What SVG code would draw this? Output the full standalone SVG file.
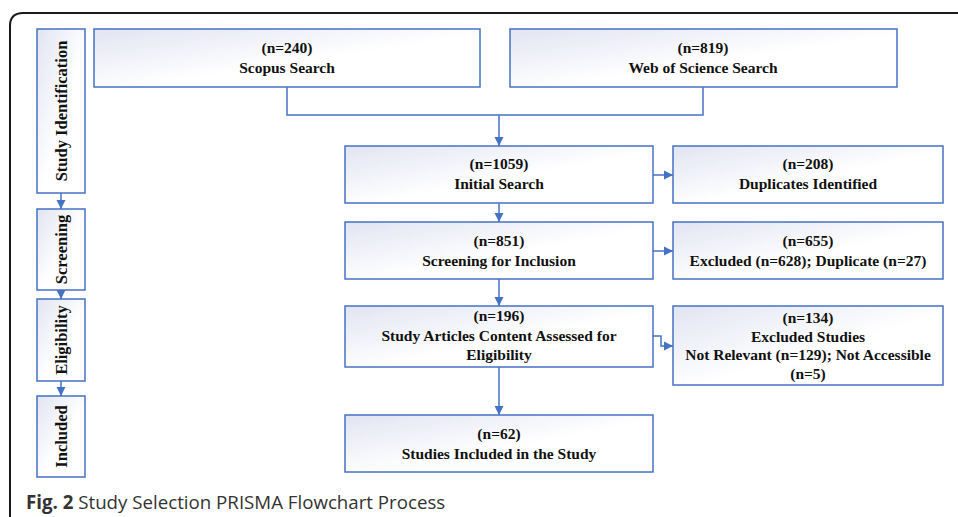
<svg xmlns="http://www.w3.org/2000/svg" width="958" height="517" viewBox="0 0 958 517">
<defs>
<linearGradient id="g" x1="0" y1="0" x2="1" y2="1">
<stop offset="0" stop-color="#e1e4f2"/>
<stop offset="0.55" stop-color="#ffffff"/>
<stop offset="1" stop-color="#ffffff"/>
</linearGradient>
<marker id="ah" markerWidth="10" markerHeight="10" refX="9" refY="5" orient="auto" markerUnits="userSpaceOnUse">
<path d="M0,0.5 L9,5 L0,9.5 Z" fill="#4472c4"/>
</marker>
<style>
.box{fill:url(#g);stroke:#4472c4;stroke-width:1.5}
.t{font-family:"Liberation Serif","DejaVu Serif",serif;font-size:15.5px;font-weight:bold;fill:#111;text-anchor:middle}
.side{font-family:"Liberation Serif","DejaVu Serif",serif;font-size:16.5px;font-weight:bold;fill:#111;text-anchor:middle}
.c{fill:none;stroke:#4472c4;stroke-width:1.5}
.ca{fill:none;stroke:#4472c4;stroke-width:1.5;marker-end:url(#ah)}
.cap{font-family:"Open Sans","Noto Sans",sans-serif;font-size:18.7px;fill:#333}
</style>
</defs>
<rect width="958" height="517" fill="#fff"/>
<path d="M10,517 V26 Q10,13 23,13 H958" fill="none" stroke="#1a1a1a" stroke-width="2"/>

<g id="connectors">
<path class="c" d="M287,87 V115 H703 V87"/>
<path class="ca" d="M499,115 V146"/>
<path class="ca" d="M653,175 H673"/>
<path class="ca" d="M499,203 V222"/>
<path class="ca" d="M653,251 H673"/>
<path class="ca" d="M499,279 V306"/>
<path class="ca" d="M653,336 H661 V346 H673"/>
<path class="ca" d="M499,367 V415"/>
<path class="ca" d="M61,193 V209"/>
<path class="ca" d="M61,290 V299"/>
<path class="ca" d="M61,381 V396"/>
</g>

<g id="side-identification">
<rect class="box" x="37" y="29" width="48" height="164"/>
<text class="side" transform="translate(67,111) rotate(-90)">Study Identification</text>
</g>
<g id="side-screening">
<rect class="box" x="37" y="209" width="48" height="81"/>
<text class="side" transform="translate(67,249.5) rotate(-90)">Screening</text>
</g>
<g id="side-eligibility">
<rect class="box" x="37" y="299" width="48" height="82"/>
<text class="side" transform="translate(67,340) rotate(-90)">Eligibility</text>
</g>
<g id="side-included">
<rect class="box" x="37" y="396" width="48" height="81"/>
<text class="side" transform="translate(67,436.5) rotate(-90)">Included</text>
</g>

<g id="scopus">
<rect class="box" x="94" y="29" width="386" height="58"/>
<text class="t" x="287" y="53">(n=240)</text>
<text class="t" x="287" y="73">Scopus Search</text>
</g>
<g id="wos">
<rect class="box" x="510" y="29" width="387" height="58"/>
<text class="t" x="703" y="53">(n=819)</text>
<text class="t" x="703" y="73">Web of Science Search</text>
</g>
<g id="initial">
<rect class="box" x="345" y="146" width="308" height="57"/>
<text class="t" x="499" y="169">(n=1059)</text>
<text class="t" x="499" y="189">Initial Search</text>
</g>
<g id="duplicates">
<rect class="box" x="673" y="146" width="270" height="57"/>
<text class="t" x="808" y="169">(n=208)</text>
<text class="t" x="808" y="189">Duplicates Identified</text>
</g>
<g id="screening">
<rect class="box" x="345" y="222" width="308" height="57"/>
<text class="t" x="499" y="246">(n=851)</text>
<text class="t" x="499" y="266">Screening for Inclusion</text>
</g>
<g id="excluded">
<rect class="box" x="673" y="222" width="270" height="57"/>
<text class="t" x="808" y="246">(n=655)</text>
<text class="t" x="808" y="266">Excluded (n=628); Duplicate (n=27)</text>
</g>
<g id="assessed">
<rect class="box" x="345" y="306" width="308" height="61"/>
<text class="t" x="499" y="321">(n=196)</text>
<text class="t" x="499" y="341">Study Articles Content Assessed for</text>
<text class="t" x="499" y="360">Eligibility</text>
</g>
<g id="excluded-studies">
<rect class="box" x="673" y="306" width="270" height="79"/>
<text class="t" x="808" y="323">(n=134)</text>
<text class="t" x="808" y="342">Excluded Studies</text>
<text class="t" x="808" y="360">Not Relevant (n=129); Not Accessible</text>
<text class="t" x="808" y="379">(n=5)</text>
</g>
<g id="included">
<rect class="box" x="345" y="415" width="308" height="57"/>
<text class="t" x="499" y="439">(n=62)</text>
<text class="t" x="499" y="459">Studies Included in the Study</text>
</g>

<text class="cap" x="26" y="509"><tspan font-weight="bold">Fig. 2</tspan> Study Selection PRISMA Flowchart Process</text>
</svg>
